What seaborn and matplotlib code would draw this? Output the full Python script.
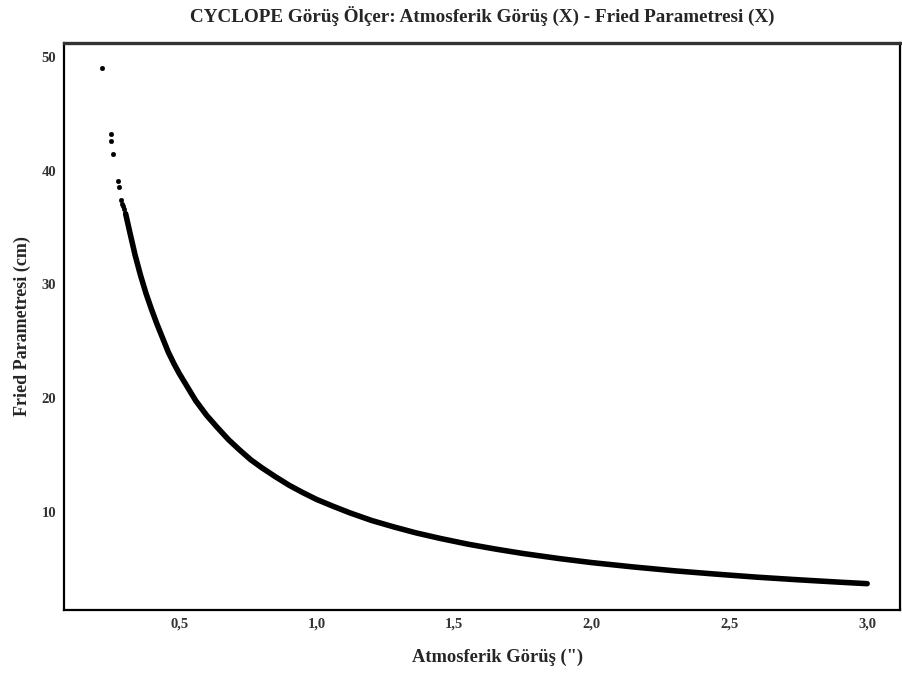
import matplotlib
matplotlib.use("Agg")
import matplotlib.pyplot as plt
import seaborn as sns
import pandas as pd

# Isolated measurements at the best seeing values (arcsec) and their Fried parameter (cm)
sparse_seeing = [0.219, 0.252, 0.253, 0.260, 0.277, 0.281, 0.289, 0.293, 0.297, 0.300, 0.303]
sparse_fried = [49.0, 43.2, 42.65, 41.5, 39.1, 38.6, 37.4, 37.1, 36.9, 36.6, 36.3]

seeing = [0.306, 0.32, 0.34, 0.36, 0.38, 0.40, 0.42, 0.44, 0.46, 0.48, 0.50, 0.53,
          0.56, 0.60, 0.64, 0.68, 0.72, 0.76, 0.80, 0.85, 0.90, 0.95, 1.00, 1.06,
          1.12, 1.20, 1.28, 1.36, 1.45, 1.55, 1.65, 1.75, 1.88, 2.00, 2.15, 2.30,
          2.45, 2.60, 2.75, 2.90, 3.00]
fried = [36.2, 34.7, 32.6, 30.8, 29.2, 27.8, 26.5, 25.3, 24.1, 23.1, 22.2, 21.0,
         19.8, 18.5, 17.4, 16.35, 15.45, 14.6, 13.9, 13.1, 12.35, 11.7, 11.1, 10.5,
         9.93, 9.25, 8.69, 8.17, 7.67, 7.17, 6.74, 6.35, 5.91, 5.55, 5.17, 4.83,
         4.54, 4.27, 4.04, 3.83, 3.70]

x_ticks = [0.5, 1.0, 1.5, 2.0, 2.5, 3.0]
x_tick_labels = ["0,5", "1,0", "1,5", "2,0", "2,5", "3,0"]
y_ticks = [10, 20, 30, 40, 50]
y_tick_labels = ["10", "20", "30", "40", "50"]

sns.set_theme(style="white")
plt.rcParams["font.family"] = ["Liberation Serif", "DejaVu Serif"]
plt.rcParams["font.weight"] = "bold"

fig = plt.figure(figsize=(9.02, 6.75), dpi=100)
ax = fig.add_axes([0.071, 0.0963, 0.927, 0.8400])

dense = pd.DataFrame({"seeing": seeing, "fried": fried})
sparse = pd.DataFrame({"seeing": sparse_seeing, "fried": sparse_fried})

sns.lineplot(data=dense, x="seeing", y="fried", ax=ax, color="black",
             linewidth=4.0, sort=False, solid_capstyle="round")
sns.scatterplot(data=sparse, x="seeing", y="fried", ax=ax, color="black",
                s=11, edgecolor="black", linewidth=0.3)

ax.set_xlim(0.082, 3.12)
ax.set_ylim(1.385, 51.23)
ax.set_xticks(x_ticks)
ax.set_xticklabels(x_tick_labels)
ax.set_yticks(y_ticks)
ax.set_yticklabels(y_tick_labels)
ax.tick_params(axis="both", which="major", direction="out", length=3.5, width=1.3,
               color="black", labelsize=10.5, pad=2, labelcolor="#333333")
for lab in ax.get_xticklabels() + ax.get_yticklabels():
    lab.set_fontweight("bold")

for side in ["left", "bottom", "right"]:
    ax.spines[side].set_color("black")
    ax.spines[side].set_linewidth(1.6)
ax.spines["top"].set_color("#333333")
ax.spines["top"].set_linewidth(2.4)

ax.set_xlabel("Atmosferik Görüş (\")", fontsize=13.3, fontweight="bold")
ax.xaxis.set_label_coords(0.519, -0.068)
ax.set_ylabel("Fried Parametresi (cm)", fontsize=13, fontweight="bold", labelpad=8)
ax.set_title("CYCLOPE Görüş Ölçer: Atmosferik Görüş (X) - Fried Parametresi (X)",
             fontsize=13.8, fontweight="bold", pad=15)

fig.savefig("out.png", dpi=100, facecolor="white")
